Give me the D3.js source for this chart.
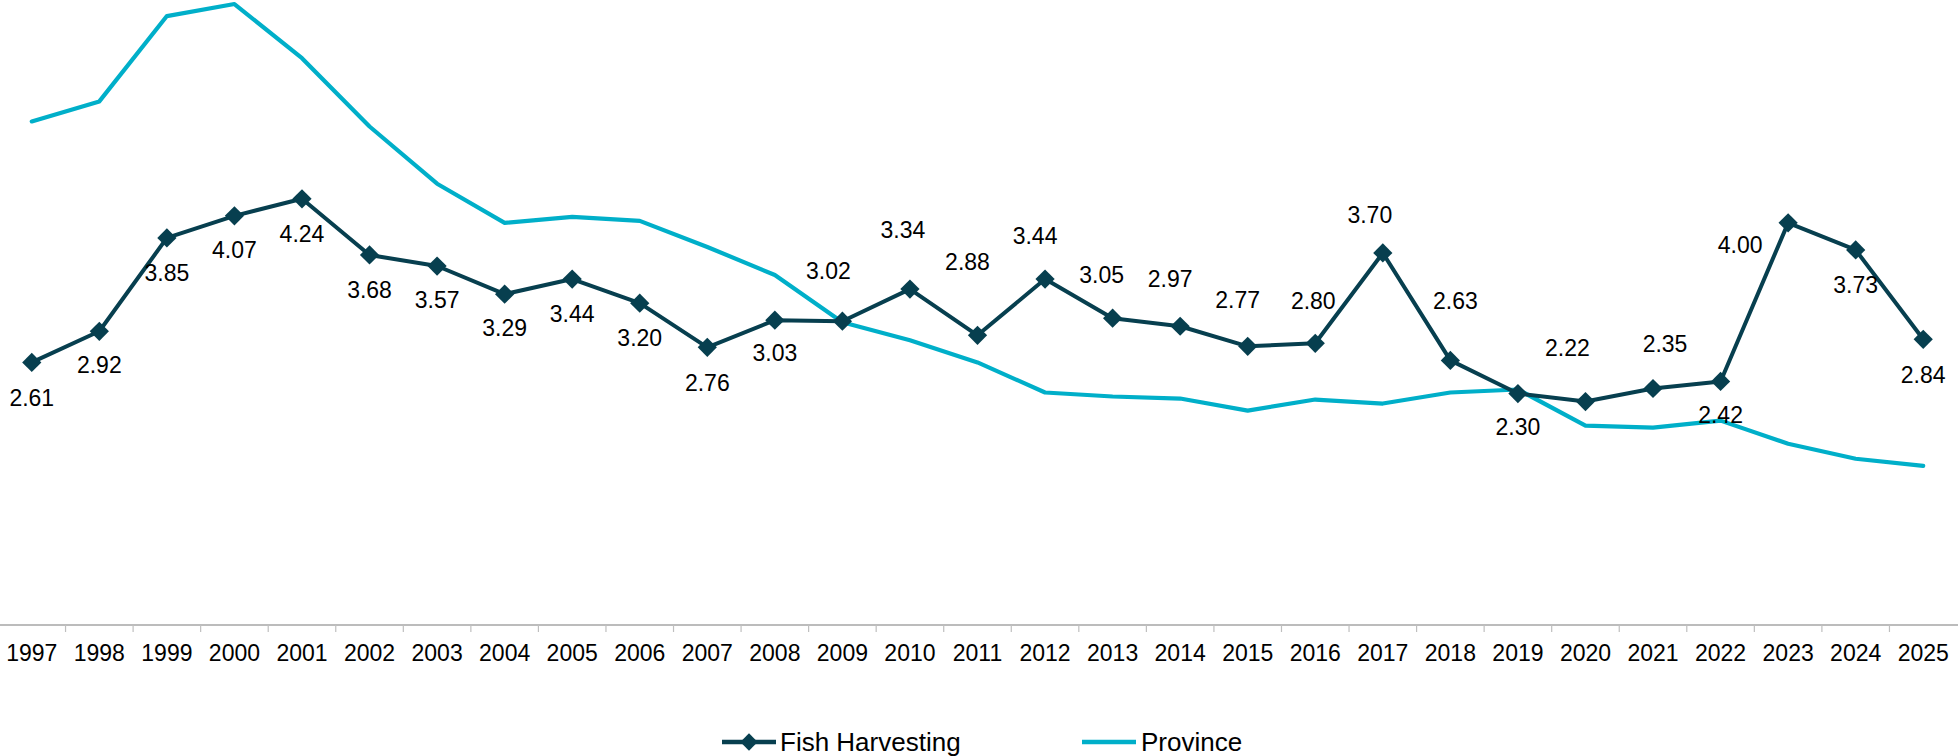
<!DOCTYPE html>
<html>
<head>
<meta charset="utf-8">
<script src="https://cdn.jsdelivr.net/npm/d3@7"></script>
<style>
  html, body { margin: 0; padding: 0; background: #fff; }
  svg { display: block; font-family: "Liberation Sans", Arial, sans-serif; }
</style>
</head>
<body>
<svg id="chart" width="1958" height="756"></svg>
<script>
const years = ["1997","1998","1999","2000","2001","2002","2003","2004","2005","2006","2007","2008","2009","2010","2011","2012","2013","2014","2015","2016","2017","2018","2019","2020","2021","2022","2023","2024","2025"];
const fishHarvesting = [2.61,2.92,3.85,4.07,4.24,3.68,3.57,3.29,3.44,3.20,2.76,3.03,3.02,3.34,2.88,3.44,3.05,2.97,2.77,2.80,3.70,2.63,2.30,2.22,2.35,2.42,4.00,3.73,2.84];
const province = [5.01,5.21,6.06,6.18,5.64,4.96,4.39,4.00,4.06,4.02,3.76,3.48,3.01,2.83,2.61,2.31,2.27,2.25,2.13,2.24,2.20,2.31,2.34,1.98,1.96,2.03,1.80,1.65,1.58];
const seriesNames = ["Fish Harvesting", "Province"];

// manual data-label placement (pixel offsets of label centre from marker), as in the original
const labelOffsets = [[0,35],[0,34],[0,35],[0,34],[0,35],[0,35],[0,34],[0,34],[0,35],[0,35],[0,35],[0,33],[-14,-50],[-7,-59],[-10,-73],[-10,-43],[-11,-43],[-10,-47],[-10,-47],[-2,-43],[-13,-38],[5,-60],[0,33],[-18,-54],[12,-45],[0,33],[-48,22],[0,35],[0,35]];

const colFish = "#073f4f";
const colProv = "#00afc9";

const svg = d3.select("#chart");
const axisY = 625;

const x = d3.scaleBand().domain(years).range([-2, 1957]);
const cx = d => x(d) + x.bandwidth() / 2;
const y = d3.scaleLinear().domain([0, 6.22]).range([624.4, 0]);

// x axis
const xAxis = d3.axisBottom(x).tickSize(0).tickPadding(0);
const gx = svg.append("g").attr("transform", `translate(0,${axisY})`).call(xAxis);
gx.select(".domain").remove();
gx.selectAll("text")
  .attr("y", 0).attr("dy", null)
  .attr("transform", "translate(0,36)")
  .attr("font-size", 23).attr("fill", "#000")
  .attr("font-family", "Liberation Sans, Arial, sans-serif");

svg.append("line")
  .attr("x1", 0).attr("x2", 1958).attr("y1", axisY).attr("y2", axisY)
  .attr("stroke", "#a6a6a6").attr("stroke-width", 1.5);
svg.append("g").selectAll("line").data(years.slice(1)).join("line")
  .attr("x1", d => x(d)).attr("x2", d => x(d))
  .attr("y1", axisY).attr("y2", axisY + 7)
  .attr("stroke", "#bfbfbf").attr("stroke-width", 1.2);

const line = d3.line().x((d, i) => cx(years[i])).y(d => y(d));

// Province line
svg.append("path").datum(province)
  .attr("d", line).attr("fill", "none")
  .attr("stroke", colProv).attr("stroke-width", 4.2)
  .attr("stroke-linejoin", "round").attr("stroke-linecap", "round");

// Fish harvesting line
svg.append("path").datum(fishHarvesting)
  .attr("d", line).attr("fill", "none")
  .attr("stroke", colFish).attr("stroke-width", 4)
  .attr("stroke-linejoin", "round");

const diamond = d3.symbol().type(d3.symbolSquare).size(185);
svg.append("g").selectAll("path").data(fishHarvesting).join("path")
  .attr("d", diamond)
  .attr("transform", (d, i) => `translate(${cx(years[i])},${y(d)}) rotate(45)`)
  .attr("fill", colFish);

// data labels
svg.append("g").selectAll("text").data(fishHarvesting).join("text")
  .attr("x", (d, i) => cx(years[i]) + labelOffsets[i][0])
  .attr("y", (d, i) => y(d) + labelOffsets[i][1] + 8.2)
  .attr("text-anchor", "middle")
  .attr("font-size", 23).attr("fill", "#000")
  .text(d => d.toFixed(2));

// legend
const lg = svg.append("g");
const legY = 742;
lg.append("line").attr("x1", 722).attr("x2", 776).attr("y1", legY).attr("y2", legY)
  .attr("stroke", colFish).attr("stroke-width", 4.5);
lg.append("path").attr("d", d3.symbol().type(d3.symbolSquare).size(150))
  .attr("transform", `translate(749,${legY}) rotate(45)`).attr("fill", colFish);
lg.append("text").attr("x", 780).attr("y", legY + 9).attr("font-size", 26).attr("fill", "#000").text(seriesNames[0]);
lg.append("line").attr("x1", 1082).attr("x2", 1136).attr("y1", legY).attr("y2", legY)
  .attr("stroke", colProv).attr("stroke-width", 4.5);
lg.append("text").attr("x", 1141).attr("y", legY + 9).attr("font-size", 26).attr("fill", "#000").text(seriesNames[1]);
</script>
</body>
</html>
